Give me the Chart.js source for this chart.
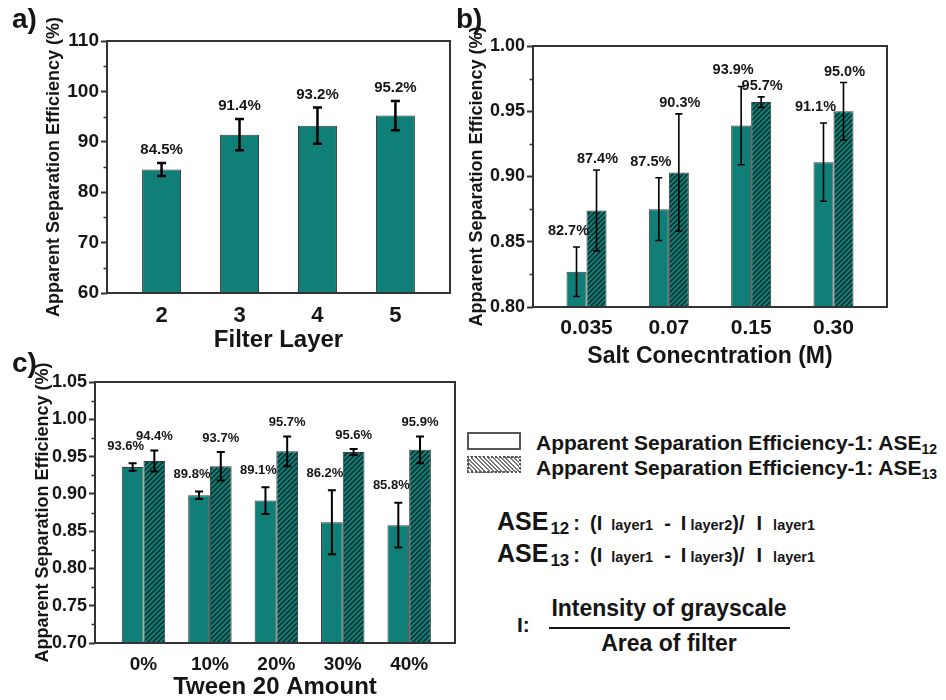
<!DOCTYPE html>
<html>
<head>
<meta charset="utf-8">
<script src="https://cdn.jsdelivr.net/npm/chart.js@4.4.1/dist/chart.umd.min.js"></script>
<style>
  html, body { margin: 0; padding: 0; background: #fff; }
  body { position: relative; width: 946px; height: 700px; overflow: hidden;
         font-family: "Liberation Sans", Arial, sans-serif; font-weight: bold; color: #151515; }
  canvas { position: absolute; }
  .abs { position: absolute; white-space: nowrap; }
  .tag { font-size: 28px; line-height: 28px; }
  .leg { font-size: 21px; line-height: 21px; }
  .leg sub { font-size: 14px; vertical-align: -4px; line-height: 0; }
  .swatch { position: absolute; box-sizing: border-box; width: 54px; }
  .formula { font-size: 25px; line-height: 25px; }
  .formula .sub { font-size: 17px; vertical-align: -4px; margin-left: 2px; }
  .formula .mid { font-size: 20px; }
  .formula .small { font-size: 14.5px; }
  .formula span { display: inline-block; }
</style>
</head>
<body>
<canvas id="chartA" width="462" height="360" style="left:0;top:0"></canvas>
<canvas id="chartB" width="484" height="370" style="left:462px;top:0"></canvas>
<canvas id="chartC" width="462" height="360" style="left:0;top:340px"></canvas>

<div class="abs tag" style="left:12px;top:5px">a)</div>
<div class="abs tag" style="left:456px;top:5px">b)</div>
<div class="abs tag" style="left:12px;top:349px">c)</div>

<!-- legend for the two series -->
<div class="swatch" style="left:467px;top:432px;height:18px;border:2px solid #555;background:#fff"></div>
<div class="swatch" style="left:467px;top:456px;height:17px;border:2px dotted #555;
     background:repeating-linear-gradient(45deg,#fff 0,#fff 1.5px,#777 1.5px,#777 3px)"></div>
<div class="abs leg" style="left:536px;top:432px">Apparent Separation Efficiency-1: ASE<sub>12</sub></div>
<div class="abs leg" style="left:536px;top:457px">Apparent Separation Efficiency-1: ASE<sub>13</sub></div>

<!-- definitions -->
<div class="abs formula" style="left:497px;top:509px">ASE<span class="sub">12</span><span class="mid" style="margin-left:4px">:</span><span class="mid" style="margin-left:10px">(I</span><span class="small" style="margin-left:9px">layer1</span><span class="mid" style="margin-left:11px">-</span><span class="mid" style="margin-left:10px">I</span><span class="small" style="margin-left:4px">layer2</span><span class="mid">)/</span><span class="mid" style="margin-left:12px">I</span><span class="small" style="margin-left:11px">layer1</span></div>
<div class="abs formula" style="left:497px;top:541px">ASE<span class="sub">13</span><span class="mid" style="margin-left:4px">:</span><span class="mid" style="margin-left:10px">(I</span><span class="small" style="margin-left:9px">layer1</span><span class="mid" style="margin-left:11px">-</span><span class="mid" style="margin-left:10px">I</span><span class="small" style="margin-left:4px">layer3</span><span class="mid">)/</span><span class="mid" style="margin-left:12px">I</span><span class="small" style="margin-left:11px">layer1</span></div>
<div class="abs" style="left:517px;top:614px;font-size:21px;line-height:21px">I:</div>
<div class="abs" style="left:546px;top:597px;width:246px;text-align:center;font-size:23px;line-height:23px">Intensity of grayscale</div>
<div class="abs" style="left:549px;top:627px;width:241px;height:2px;background:#151515"></div>
<div class="abs" style="left:546px;top:632px;width:246px;text-align:center;font-size:23px;line-height:23px">Area of filter</div>

<script>
// ---- data ----
const layerLabels = ['2', '3', '4', '5'];
const layerValues = [84.5, 91.4, 93.2, 95.2];
const layerErrors = [1.3, 3.1, 3.6, 2.9];
const layerTicks  = [60, 70, 80, 90, 100, 110];

const saltLabels    = ['0.035', '0.07', '0.15', '0.30'];
const saltASE12     = [0.827, 0.875, 0.939, 0.911];
const saltASE12Err  = [0.019, 0.024, 0.030, 0.030];
const saltASE13     = [0.874, 0.903, 0.957, 0.950];
const saltASE13Err  = [0.031, 0.045, 0.004, 0.022];
const saltTicks     = [0.80, 0.85, 0.90, 0.95, 1.00];

const tweenLabels   = ['0%', '10%', '20%', '30%', '40%'];
const tweenASE12    = [0.936, 0.898, 0.891, 0.862, 0.858];
const tweenASE12Err = [0.005, 0.005, 0.018, 0.043, 0.030];
const tweenASE13    = [0.944, 0.937, 0.957, 0.956, 0.959];
const tweenASE13Err = [0.014, 0.019, 0.020, 0.004, 0.018];
const tweenTicks    = [0.70, 0.75, 0.80, 0.85, 0.90, 0.95, 1.00, 1.05];

// ---- styling ----
const FONT = '"Liberation Sans", Arial, sans-serif';
const INK = '#151515';
const TEAL = '#0f7f78';
const EDGE = '#3a3a3a';

function hatchPattern(bg, fg) {
  const s = 5;
  const c = document.createElement('canvas');
  c.width = c.height = s;
  const g = c.getContext('2d');
  g.fillStyle = bg; g.fillRect(0, 0, s, s);
  g.strokeStyle = fg; g.lineWidth = 1.4;
  g.beginPath();
  g.moveTo(-1, 1); g.lineTo(1, -1);
  g.moveTo(-1, s + 1); g.lineTo(s + 1, -1);
  g.moveTo(s - 1, s + 1); g.lineTo(s + 1, s - 1);
  g.stroke();
  return g.createPattern(c, 'repeat');
}
const HATCH = hatchPattern(TEAL, '#0a2624');

// frame, minor ticks, error bars and value labels
const panelDecor = {
  id: 'panelDecor',
  afterDraw(chart, args, opts) {
    const { ctx, chartArea: ca } = chart;
    const y = chart.scales.y;
    ctx.save();
    // minor ticks halfway between the labelled ones
    const major = y.ticks.map(t => t.value);
    ctx.strokeStyle = '#333'; ctx.lineWidth = 1.5;
    ctx.beginPath();
    for (let i = 0; i < major.length - 1; i++) {
      const py = Math.round(y.getPixelForValue((major[i] + major[i + 1]) / 2)) + 0.5;
      ctx.moveTo(ca.left - 3.5, py); ctx.lineTo(ca.left, py);
    }
    ctx.stroke();
    // plot frame
    ctx.lineWidth = 2; ctx.strokeStyle = '#333';
    ctx.strokeRect(ca.left, ca.top, ca.right - ca.left, ca.bottom - ca.top);
    // error bars + labels
    chart.data.datasets.forEach((ds, di) => {
      const meta = chart.getDatasetMeta(di);
      meta.data.forEach((bar, i) => {
        const v = ds.data[i].y, e = ds.errors[i];
        const pTop = y.getPixelForValue(v + e), pBot = y.getPixelForValue(v - e);
        const cx = bar.x, cw = opts.cap;
        ctx.strokeStyle = '#000'; ctx.lineWidth = opts.errWidth;
        ctx.beginPath();
        ctx.moveTo(cx, pTop); ctx.lineTo(cx, pBot);
        ctx.moveTo(cx - cw / 2, pTop); ctx.lineTo(cx + cw / 2, pTop);
        ctx.moveTo(cx - cw / 2, pBot); ctx.lineTo(cx + cw / 2, pBot);
        ctx.stroke();
        ctx.fillStyle = INK;
        ctx.font = 'bold ' + opts.labelSize + 'px ' + FONT;
        ctx.textAlign = 'center'; ctx.textBaseline = 'middle';
        ctx.fillText(opts.fmt(v), cx + opts.dx[di], pTop - opts.dy[di]);
      });
    });
    ctx.restore();
  }
};

function yAxis(ticks, width, tickSize, titleOffset, fmt) {
  return {
    min: ticks[0], max: ticks[ticks.length - 1],
    afterBuildTicks: s => { s.ticks = ticks.map(v => ({ value: v })); },
    afterFit: s => { s.width = width; },
    grid: { drawOnChartArea: false, tickLength: 6, tickWidth: 2, tickColor: '#333' },
    border: { display: false },
    ticks: { padding: 2, color: INK, font: { family: FONT, size: tickSize, weight: 'bold' }, callback: fmt },
    title: { display: true, text: 'Apparent Separation Efficiency (%)', color: INK,
             font: { family: FONT, size: 18, weight: 'bold', lineHeight: 1 }, padding: { top: titleOffset, bottom: 0 } }
  };
}

function xAxis(labels, positions, min, max, height, tickSize, tickPad, title, titleSize, titlePad) {
  return {
    type: 'linear', offset: false, min, max,
    afterBuildTicks: s => { s.ticks = positions.map(v => ({ value: v })); },
    afterFit: s => { s.height = height; },
    grid: { display: false, drawTicks: false },
    border: { display: false },
    ticks: { padding: tickPad, color: INK, font: { family: FONT, size: tickSize, weight: 'bold' },
             callback: v => labels[positions.indexOf(v)] },
    title: { display: true, text: title, color: INK,
             font: { family: FONT, size: titleSize, weight: 'bold', lineHeight: 1 }, padding: { top: 0, bottom: titlePad } }
  };
}

function baseOptions(padding) {
  return {
    responsive: false, animation: false, devicePixelRatio: 1,
    layout: { padding },
    plugins: { legend: { display: false }, tooltip: { enabled: false } }
  };
}

const pct1 = v => v.toFixed(1) + '%';
const pct100 = v => (v * 100).toFixed(1) + '%';

// a) filter layer
const layerPos = layerLabels.map(Number);
const optA = baseOptions({ top: 41, right: 12, left: 0, bottom: 0 });
optA.plugins.panelDecor = { cap: 9, errWidth: 2.5, labelSize: 15, dx: [0], dy: [13], fmt: pct1 };
optA.scales = {
  x: xAxis(layerLabels, layerPos, 1.3, 5.7, 67, 22, 10, 'Filter Layer', 24, 8),
  y: yAxis(layerTicks, 107, 19, 45, v => String(v))
};
new Chart(document.getElementById('chartA'), {
  type: 'bar',
  data: { datasets: [{
    data: layerValues.map((v, i) => ({ x: layerPos[i], y: v })),
    errors: layerErrors,
    backgroundColor: TEAL, borderColor: EDGE, borderWidth: 1,
    categoryPercentage: 0.5, barPercentage: 1
  }] },
  options: optA,
  plugins: [panelDecor]
});

// b) salt concentration
const saltPos = saltLabels.map((_, i) => i + 1);
const optB = baseOptions({ top: 46, right: 59, left: 0, bottom: 0 });
optB.plugins.panelDecor = { cap: 7, errWidth: 1.6, labelSize: 14.5, dx: [-8, 1], dy: [16, 11], fmt: pct100 };
optB.scales = {
  x: xAxis(saltLabels, saltPos, 0.35, 4.65, 63, 21, 9, 'Salt Conecntration (M)', 23, 2),
  y: yAxis(saltTicks, 71, 18, 6.5, v => v.toFixed(2))
};
new Chart(document.getElementById('chartB'), {
  type: 'bar',
  data: { datasets: [
    { data: saltASE12.map((v, i) => ({ x: saltPos[i], y: v })), errors: saltASE12Err,
      backgroundColor: TEAL, borderColor: EDGE, borderWidth: 1, categoryPercentage: 0.486, barPercentage: 1 },
    { data: saltASE13.map((v, i) => ({ x: saltPos[i], y: v })), errors: saltASE13Err,
      backgroundColor: HATCH, borderColor: EDGE, borderWidth: 1, categoryPercentage: 0.486, barPercentage: 1 }
  ] },
  options: optB,
  plugins: [panelDecor]
});

// c) Tween 20 amount
const tweenPos = tweenLabels.map((_, i) => i + 1);
const optC = baseOptions({ top: 42, right: 7, left: 0, bottom: 0 });
optC.plugins.panelDecor = { cap: 8, errWidth: 2, labelSize: 13, dx: [-7, 0], dy: [17, 14], fmt: pct100 };
optC.scales = {
  x: xAxis(tweenLabels, tweenPos, 0.27, 5.69, 57, 19, 10, 'Tween 20 Amount', 24, 1),
  y: yAxis(tweenTicks, 95, 18, 34.5, v => v.toFixed(2))
};
new Chart(document.getElementById('chartC'), {
  type: 'bar',
  data: { datasets: [
    { data: tweenASE12.map((v, i) => ({ x: tweenPos[i], y: v })), errors: tweenASE12Err,
      backgroundColor: TEAL, borderColor: EDGE, borderWidth: 1, categoryPercentage: 0.654, barPercentage: 1 },
    { data: tweenASE13.map((v, i) => ({ x: tweenPos[i], y: v })), errors: tweenASE13Err,
      backgroundColor: HATCH, borderColor: EDGE, borderWidth: 1, categoryPercentage: 0.654, barPercentage: 1 }
  ] },
  options: optC,
  plugins: [panelDecor]
});
</script>
</body>
</html>
